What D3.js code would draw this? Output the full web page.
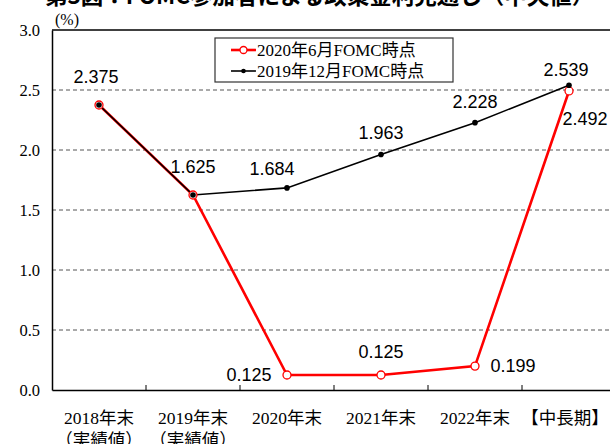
<!DOCTYPE html>
<html>
<head>
<meta charset="utf-8">
<script src="https://cdn.jsdelivr.net/npm/d3@7"></script>
<style>
  body { margin: 0; background: #fff; }
  svg { display: block; }
</style>
</head>
<body>
<svg id="chart" width="610" height="444"></svg>
<script>
// categories and series
const categories = ["2018年末", "2019年末", "2020年末", "2021年末", "2022年末", "【中長期】"];
const subLabels = ["（実績値）", "（実績値）", "", "", "", ""];
const june2020 = [2.375, 1.625, 0.125, 0.125, 0.199, 2.492];
const dec2019 = [2.375, 1.625, 1.684, 1.963, 2.228, 2.539];
const yTicks = [0, 0.5, 1.0, 1.5, 2.0, 2.5, 3.0];

// label offsets (dx, dy) relative to each point
const juneLabelPos = [null, null, [-38, 6], [0, -17], [38, 6], [16, 34]];
const decLabelPos = [[-3, -22], [0, -22], [-15, -13], [0, -15], [0, -15], [-3, -9]];

const svg = d3.select("#chart");
const serif = "'Liberation Serif', 'Noto Sans CJK JP', serif";
const sans = "'Liberation Sans', Arial, sans-serif";

const margin = { left: 52, top: 30, right: -6, bottom: 54 };
const W = 610, H = 444;

const x = d3.scaleBand()
  .domain(categories)
  .range([margin.left, W - margin.right])
  .padding(0);

const y = d3.scaleLinear()
  .domain([0, 3])
  .range([H - margin.bottom, margin.top]);

const cx = (i) => x(categories[i]) + x.bandwidth() / 2;

// title (clipped at the top in the original)
svg.append("text")
  .attr("x", 45)
  .attr("y", 4)
  .attr("font-family", "'Noto Sans CJK JP', sans-serif")
  .attr("font-weight", "bold")
  .attr("font-size", 22.5)
  .attr("fill", "#000")
  .text("第3図：FOMC参加者による政策金利見通し（中央値）");

// unit
svg.append("text")
  .attr("x", 55)
  .attr("y", 25)
  .attr("font-family", serif)
  .attr("font-size", 16)
  .text("(%)");

// gridlines
svg.append("g")
  .selectAll("line")
  .data(yTicks.filter(d => d > 0 && d < 3))
  .join("line")
  .attr("x1", margin.left)
  .attr("x2", W)
  .attr("y1", d => y(d))
  .attr("y2", d => y(d))
  .attr("stroke", "#555")
  .attr("stroke-width", 1)
  .attr("stroke-dasharray", "4,3");

// top border
svg.append("line")
  .attr("x1", margin.left).attr("x2", W)
  .attr("y1", y(3)).attr("y2", y(3))
  .attr("stroke", "#000").attr("stroke-width", 1.5);

// y axis
const yAxis = svg.append("g")
  .attr("transform", `translate(${margin.left},0)`)
  .call(d3.axisLeft(y).tickValues(yTicks).tickFormat(d3.format(".1f")).tickSize(0).tickPadding(12));
yAxis.select(".domain").attr("stroke", "#000").attr("stroke-width", 1.5);
yAxis.selectAll("text")
  .attr("font-family", serif)
  .attr("font-size", 16.5)
  .attr("fill", "#000");

// x axis with ticks pointing up at band boundaries
const xAxis = svg.append("g")
  .attr("transform", `translate(0,${y(0)})`)
  .call(d3.axisBottom(x).tickSize(0).tickFormat(""));
xAxis.select(".domain").attr("stroke", "#000").attr("stroke-width", 1.5);
xAxis.selectAll(".tick").remove();
xAxis.selectAll("line.bound")
  .data(categories.slice(1))
  .join("line")
  .attr("class", "bound")
  .attr("x1", d => x(d)).attr("x2", d => x(d))
  .attr("y1", 0).attr("y2", -5)
  .attr("stroke", "#000").attr("stroke-width", 1);

// x labels
const xl = svg.append("g");
xl.selectAll("text.cat")
  .data(categories)
  .join("text")
  .attr("class", "cat")
  .attr("x", (d, i) => cx(i) + (i === 5 ? -4 : 0))
  .attr("y", 424)
  .attr("text-anchor", "middle")
  .attr("font-family", serif)
  .attr("font-size", 17.5)
  .text(d => d);
xl.selectAll("text.sub")
  .data(subLabels)
  .join("text")
  .attr("class", "sub")
  .attr("x", (d, i) => cx(i))
  .attr("y", 446)
  .attr("text-anchor", "middle")
  .attr("font-family", serif)
  .attr("font-size", 17.5)
  .text(d => d);

const line = d3.line()
  .x((d, i) => cx(i))
  .y(d => y(d));

// red series
svg.append("path")
  .datum(june2020)
  .attr("fill", "none")
  .attr("stroke", "#ff0000")
  .attr("stroke-width", 2.6)
  .attr("d", line);

// black series
svg.append("path")
  .datum(dec2019)
  .attr("fill", "none")
  .attr("stroke", "#000")
  .attr("stroke-width", 1.6)
  .attr("d", line);

svg.append("g")
  .selectAll("circle")
  .data(june2020)
  .join("circle")
  .attr("cx", (d, i) => cx(i))
  .attr("cy", d => y(d))
  .attr("r", 4)
  .attr("fill", "#fff")
  .attr("stroke", "#ff0000")
  .attr("stroke-width", 1.3);

svg.append("g")
  .selectAll("circle")
  .data(dec2019)
  .join("circle")
  .attr("cx", (d, i) => cx(i))
  .attr("cy", d => y(d))
  .attr("r", 2.8)
  .attr("fill", "#000");

// value labels
const fmt = d3.format(".3f");
svg.append("g")
  .selectAll("text")
  .data(dec2019)
  .join("text")
  .attr("x", (d, i) => cx(i) + decLabelPos[i][0])
  .attr("y", (d, i) => y(d) + decLabelPos[i][1])
  .attr("text-anchor", "middle")
  .attr("font-family", sans)
  .attr("font-size", 18)
  .text(d => fmt(d));

svg.append("g")
  .selectAll("text")
  .data(june2020.map((v, i) => ({ v, i })).filter(d => juneLabelPos[d.i]))
  .join("text")
  .attr("x", d => cx(d.i) + juneLabelPos[d.i][0])
  .attr("y", d => y(d.v) + juneLabelPos[d.i][1])
  .attr("text-anchor", "middle")
  .attr("font-family", sans)
  .attr("font-size", 18)
  .text(d => fmt(d.v));

// legend
const lg = svg.append("g");
lg.append("rect")
  .attr("x", 215).attr("y", 38)
  .attr("width", 238).attr("height", 44)
  .attr("fill", "#fff")
  .attr("stroke", "#333")
  .attr("stroke-width", 1.2);

const legendItems = [
  { label: "2020年6月FOMC時点", color: "#ff0000", width: 2.6, open: true },
  { label: "2019年12月FOMC時点", color: "#000", width: 1.6, open: false }
];
legendItems.forEach((it, k) => {
  const ly = 50 + k * 21;
  lg.append("line")
    .attr("x1", 231).attr("x2", 256)
    .attr("y1", ly).attr("y2", ly)
    .attr("stroke", it.color).attr("stroke-width", it.width);
  lg.append("circle")
    .attr("cx", 243.5).attr("cy", ly)
    .attr("r", it.open ? 3.5 : 2.3)
    .attr("fill", it.open ? "#fff" : "#000")
    .attr("stroke", it.open ? it.color : "none")
    .attr("stroke-width", 1.3);
  lg.append("text")
    .attr("x", 257).attr("y", ly + 6)
    .attr("font-family", serif)
    .attr("font-size", 17)
    .text(it.label);
});
</script>
</body>
</html>
